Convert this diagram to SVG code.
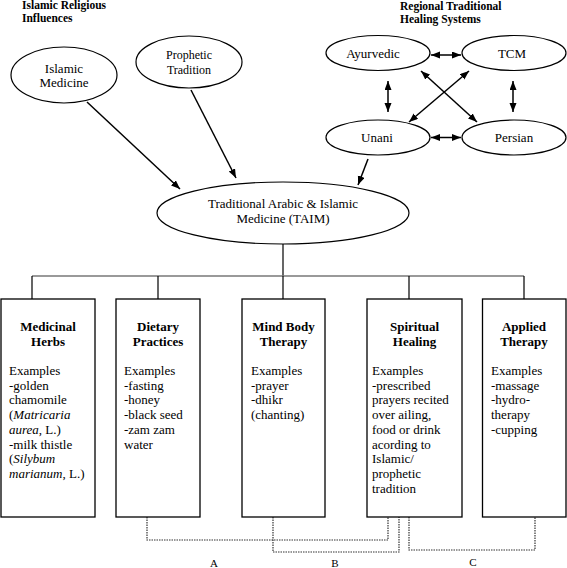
<svg xmlns="http://www.w3.org/2000/svg" width="567" height="568" viewBox="0 0 567 568" font-family="'Liberation Serif', 'DejaVu Serif', 'Noto Serif', serif">
<style>
text{font-family:'Liberation Serif','DejaVu Serif','Noto Serif',serif;font-size:13px;fill:#000}
.h{font-weight:bold;font-size:11.5px}
.t{font-weight:bold;text-anchor:middle}
.c{text-anchor:middle}
.n{font-size:12px;text-anchor:middle}
.lb{font-size:11px;text-anchor:middle}
.e{fill:#fff;stroke:#000;stroke-width:1.2}
.b{fill:#fff;stroke:#000;stroke-width:1.3}
.a{stroke:#000;stroke-width:1.5;fill:none}
.bus{stroke:#777;stroke-width:1.4;fill:none}
.tree{stroke:#000;stroke-width:1.2;fill:none}
.dot{stroke:#333;stroke-width:1.2;fill:none;stroke-dasharray:1.5 1}
</style>
<defs>
<marker id="ah" markerUnits="userSpaceOnUse" markerWidth="10" markerHeight="8" refX="9" refY="3.5" orient="auto-start-reverse">
<path d="M0,0 L9,3.5 L0,7 z" fill="#000"/>
</marker>
</defs>
<text class="h" x="22" y="9">Islamic Religious</text>
<text class="h" x="22" y="22">Influences</text>
<text class="h" x="400" y="9.5">Regional Traditional</text>
<text class="h" x="400" y="22.5">Healing Systems</text>
<g id="connectors">
<line class="a" x1="87" y1="102" x2="180" y2="189" marker-end="url(#ah)"/>
<line class="a" x1="191" y1="90" x2="236" y2="178" marker-end="url(#ah)"/>
<line class="a" x1="368" y1="159" x2="358" y2="185" marker-end="url(#ah)"/>
<line class="a" x1="431" y1="55" x2="461" y2="55" marker-start="url(#ah)" marker-end="url(#ah)"/>
<line class="a" x1="431" y1="137.5" x2="461" y2="137.5" marker-start="url(#ah)" marker-end="url(#ah)"/>
<line class="a" x1="388" y1="81" x2="388" y2="112" marker-start="url(#ah)" marker-end="url(#ah)"/>
<line class="a" x1="513" y1="81" x2="513" y2="112" marker-start="url(#ah)" marker-end="url(#ah)"/>
<line class="a" x1="421" y1="71" x2="477" y2="122" marker-start="url(#ah)" marker-end="url(#ah)"/>
<line class="a" x1="469" y1="71" x2="409" y2="122" marker-start="url(#ah)" marker-end="url(#ah)"/>
<line class="tree" x1="283" y1="244" x2="283" y2="276"/>
<line class="bus" x1="32" y1="276" x2="524" y2="276"/>
<path class="tree" d="M32,276V299 M158,276V299 M283,276V299 M409,276V299 M524,276V299"/>
<path class="dot" d="M147,517V540H388V517"/>
<path class="dot" d="M273,517V552H399V517"/>
<path class="dot" d="M409,517V550H535V517"/>
</g>
<g id="islamic-medicine">
<ellipse class="e" cx="64" cy="75" rx="53" ry="28"/>
<text class="c" x="64" y="73">Islamic</text>
<text class="c" x="64" y="87">Medicine</text>
</g>
<g id="prophetic-tradition">
<ellipse class="e" cx="189" cy="62" rx="53" ry="26"/>
<text class="n" x="189" y="59">Prophetic</text>
<text class="n" x="189" y="73.5">Tradition</text>
</g>
<g id="ayurvedic">
<ellipse class="e" cx="378" cy="53" rx="52" ry="17.5"/>
<text class="c" x="373" y="58">Ayurvedic</text>
</g>
<g id="tcm">
<ellipse class="e" cx="514" cy="53" rx="52" ry="17.5"/>
<text class="c" x="512" y="58">TCM</text>
</g>
<g id="unani">
<ellipse class="e" cx="378" cy="137.5" rx="52" ry="17.5"/>
<text class="c" x="377" y="141.5">Unani</text>
</g>
<g id="persian">
<ellipse class="e" cx="514" cy="137.5" rx="52" ry="17.5"/>
<text class="c" x="514" y="141.5">Persian</text>
</g>
<g id="taim">
<ellipse class="e" cx="283" cy="213" rx="126" ry="31"/>
<text class="c" x="283" y="208">Traditional Arabic &amp; Islamic</text>
<text class="c" x="283" y="222.5">Medicine (TAIM)</text>
</g>
<g id="medicinal-herbs">
<rect class="b" x="1" y="299" width="94" height="218"/>
<text class="t" x="48" y="331">Medicinal</text>
<text class="t" x="48" y="346">Herbs</text>
<text x="9" y="375">Examples</text>
<text x="9" y="389.7">-golden</text>
<text x="9" y="404.4">chamomile</text>
<text x="9" y="419.1">(<tspan font-style="italic">Matricaria</tspan></text>
<text x="9" y="433.8"><tspan font-style="italic">aurea</tspan>, L.)</text>
<text x="9" y="448.5">-milk thistle</text>
<text x="9" y="463.2">(<tspan font-style="italic">Silybum</tspan></text>
<text x="9" y="477.9"><tspan font-style="italic">marianum</tspan>, L.)</text>
</g>
<g id="dietary-practices">
<rect class="b" x="116" y="299" width="84" height="218"/>
<text class="t" x="158" y="331">Dietary</text>
<text class="t" x="158" y="346">Practices</text>
<text x="124" y="375">Examples</text>
<text x="124" y="389.7">-fasting</text>
<text x="124" y="404.4">-honey</text>
<text x="124" y="419.1">-black seed</text>
<text x="124" y="433.8">-zam zam</text>
<text x="124" y="448.5">water</text>
</g>
<g id="mind-body-therapy">
<rect class="b" x="242" y="299" width="83" height="218"/>
<text class="t" x="283.5" y="331">Mind Body</text>
<text class="t" x="283.5" y="346">Therapy</text>
<text x="251" y="375">Examples</text>
<text x="251" y="389.7">-prayer</text>
<text x="251" y="404.4">-dhikr</text>
<text x="251" y="419.1">(chanting)</text>
</g>
<g id="spiritual-healing">
<rect class="b" x="367" y="299" width="95" height="218"/>
<text class="t" x="414.5" y="331">Spiritual</text>
<text class="t" x="414.5" y="346">Healing</text>
<text x="372" y="375">Examples</text>
<text x="372" y="389.7">-prescribed</text>
<text x="372" y="404.4">prayers recited</text>
<text x="372" y="419.1">over ailing,</text>
<text x="372" y="433.8">food or drink</text>
<text x="372" y="448.5">acording to</text>
<text x="372" y="463.2">Islamic/</text>
<text x="372" y="477.9">prophetic</text>
<text x="372" y="492.6">tradition</text>
</g>
<g id="applied-therapy">
<rect class="b" x="482.5" y="299" width="83.5" height="218"/>
<text class="t" x="524" y="331">Applied</text>
<text class="t" x="524" y="346">Therapy</text>
<text x="491" y="375">Examples</text>
<text x="491" y="389.7">-massage</text>
<text x="491" y="404.4">-hydro-</text>
<text x="491" y="419.1">therapy</text>
<text x="491" y="433.8">-cupping</text>
</g>
<text class="lb" x="214" y="566.5">A</text>
<text class="lb" x="335" y="566.5">B</text>
<text class="lb" x="473" y="566">C</text>
</svg>
